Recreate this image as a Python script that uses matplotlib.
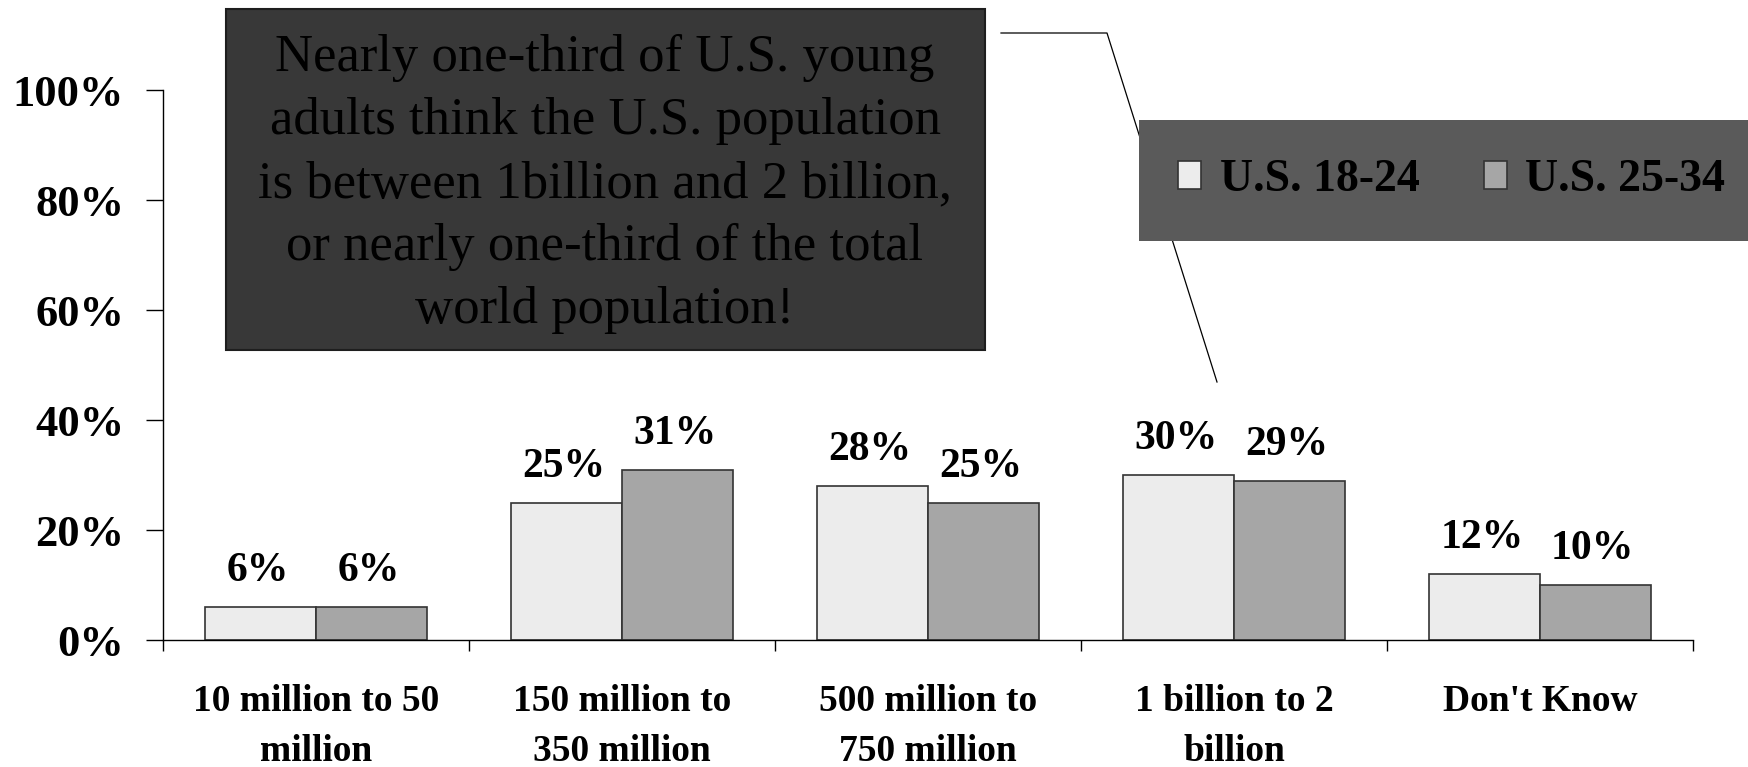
import numpy as np
import matplotlib.pyplot as plt
from matplotlib.patches import Rectangle
from matplotlib.lines import Line2D

categories = ['10 million to 50\nmillion', '150 million to\n350 million',
              '500 million to\n750 million', '1 billion to 2\nbillion', "Don't Know"]
us_18_24 = [6, 25, 28, 30, 12]
us_25_34 = [6, 31, 25, 29, 10]
series_names = ['U.S. 18-24', 'U.S. 25-34']
yticks = [0, 20, 40, 60, 80, 100]
note_lines = ['Nearly one-third of U.S. young',
              'adults think the U.S. population',
              'is between 1billion and 2 billion,',
              'or nearly one-third of the total',
              'world population!']

plt.rcParams['font.family'] = ['Liberation Serif', 'DejaVu Serif']

W, H = 1748, 767
fig = plt.figure(figsize=(W / 100, H / 100), dpi=100)
ax = fig.add_axes([163 / W, 1 - 640 / H, (1693 - 163) / W, (640 - 90) / H])

x = np.arange(len(categories))
bw = 0.362
b1 = ax.bar(x - bw / 2, us_18_24, bw, color='#ececec', edgecolor='#333333', linewidth=1.2,
            label=series_names[0])
b2 = ax.bar(x + bw / 2, us_25_34, bw, color='#a6a6a6', edgecolor='#333333', linewidth=1.2,
            label=series_names[1])

for bars, vals in ((b1, us_18_24), (b2, us_25_34)):
    for r, v in zip(bars, vals):
        ax.annotate(f'{v}%', (r.get_x() + r.get_width() / 2, v), xytext=(-2, 12),
                    textcoords='offset points', ha='center', va='bottom',
                    fontsize=30, fontweight='bold')

ax.set_xlim(-0.5, len(categories) - 0.5)
ax.set_ylim(0, 100)
ax.set_yticks(yticks)
ax.set_yticklabels([f'{t}%' for t in yticks], fontsize=32, fontweight='bold')
ax.tick_params(axis='y', length=12, width=1, pad=16, direction='out')

ax.set_xticks(x)
ax.set_xticklabels(categories, fontsize=27, fontweight='bold', linespacing=1.55)
ax.tick_params(axis='x', which='major', length=0, pad=32)
ax.set_xticks(np.arange(len(categories) + 1) - 0.5, minor=True)
ax.tick_params(axis='x', which='minor', length=8, width=1, direction='out')

for s in ('top', 'right'):
    ax.spines[s].set_visible(False)
for s in ('left', 'bottom'):
    ax.spines[s].set_linewidth(1)

# annotation box
fig.patches.append(Rectangle((226 / W, 1 - 350 / H), (985 - 226) / W, (350 - 9) / H,
                             transform=fig.transFigure, facecolor='#383838',
                             edgecolor='#1e1e1e', linewidth=1.5, zorder=3))
for i, line in enumerate(note_lines):
    fig.text(605 / W, 1 - (58 + i * 63) / H, line, ha='center', va='center',
             fontsize=38, color='black', zorder=4)

# leader line
fig.add_artist(Line2D([1001 / W, 1107 / W, 1217 / W],
                      [1 - 33 / H, 1 - 33 / H, 1 - 382 / H],
                      color='black', linewidth=0.9))

# legend
leg = fig.legend(handles=[b1, b2], labels=series_names, loc='upper left',
                 bbox_to_anchor=(1139 / W, 1 - 120 / H), ncol=2, frameon=True,
                 fancybox=False, facecolor='#5a5a5a', edgecolor='#5a5a5a', framealpha=1,
                 prop={'family': 'Liberation Serif', 'weight': 'bold', 'size': 33},
                 handlelength=0.5, handleheight=0.55, handletextpad=0.4,
                 columnspacing=1.4, borderpad=0.86, borderaxespad=0)
leg.get_frame().set_linewidth(0)

fig.savefig('out.png', dpi=100)
